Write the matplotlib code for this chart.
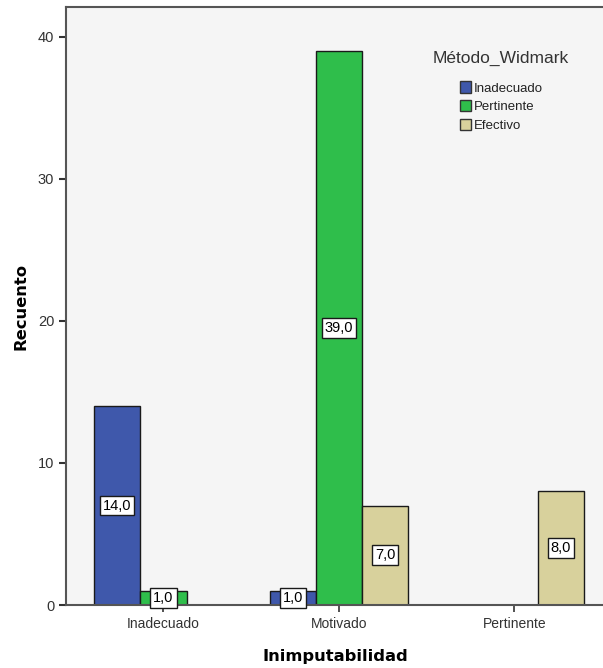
import numpy as np
import matplotlib.pyplot as plt
from matplotlib.patches import Patch

# Datos del gráfico
categorias = ['Inadecuado', 'Motivado', 'Pertinente']
series = ['Inadecuado', 'Pertinente', 'Efectivo']
inadecuado = [14, 1, np.nan]
pertinente = [1, 39, np.nan]
efectivo = [np.nan, 7, 8]
colores = ['#3f58ab', '#2fbe4b', '#d8d19c']

plt.rcParams['font.family'] = ['Liberation Sans', 'DejaVu Sans']

fig = plt.figure(figsize=(6.03, 6.68), dpi=100)
ax = fig.add_axes([0.1095, 0.0943, 0.895, 0.8952])
ax.set_facecolor('#f5f5f5')

x = np.arange(len(categorias))
ancho = 0.263
valores = [inadecuado, pertinente, efectivo]
for i, (vals, color) in enumerate(zip(valores, colores)):
    pos = x + (i - 1) * ancho
    for xp, v in zip(pos, vals):
        if np.isnan(v):
            continue
        ax.bar(xp, v, width=ancho, color=color, edgecolor='#1a1a1a', linewidth=1.0, zorder=2)
        ax.text(xp, max(v / 2, 0.5), f'{v:.1f}'.replace('.', ','), ha='center', va='center',
                fontsize=10.5, zorder=3,
                bbox=dict(boxstyle='square,pad=0.2', fc='white', ec='#1a1a1a', lw=1.0))

ax.set_xlim(-0.555, 2.52)
ax.set_ylim(0, 42.1)
ax.set_xticks(x)
ax.set_xticklabels(categorias, fontsize=10, color='#333333')
ax.set_yticks([0, 10, 20, 30, 40])
ax.tick_params(axis='y', labelsize=10.5, colors='#333333', length=5, width=1.5)
ax.tick_params(axis='x', length=5, width=1.2, colors='#333333')
for s in ax.spines.values():
    s.set_color('#555555')
    s.set_linewidth(1.5)

ax.set_xlabel('Inimputabilidad', fontsize=11.8, fontweight='bold', family='DejaVu Sans', labelpad=13)
ax.set_ylabel('Recuento', fontsize=11.8, fontweight='bold', family='DejaVu Sans', labelpad=7)

handles = [Patch(facecolor=c, edgecolor='#333333', label=s) for s, c in zip(series, colores)]
leg = ax.legend(handles=handles, title='Método_Widmark', loc='upper left',
                bbox_to_anchor=(0.663, 0.942), frameon=False, fontsize=9.5,
                title_fontsize=12.5, handlelength=0.85, handleheight=0.95,
                handletextpad=0.2, labelspacing=0.42, borderpad=0.2)
leg._legend_box.align = 'center'
leg._legend_box.sep = 11
leg.get_title().set_color('#333333')
for t in leg.get_texts():
    t.set_color('#222222')

fig.savefig('out.png', dpi=100)
